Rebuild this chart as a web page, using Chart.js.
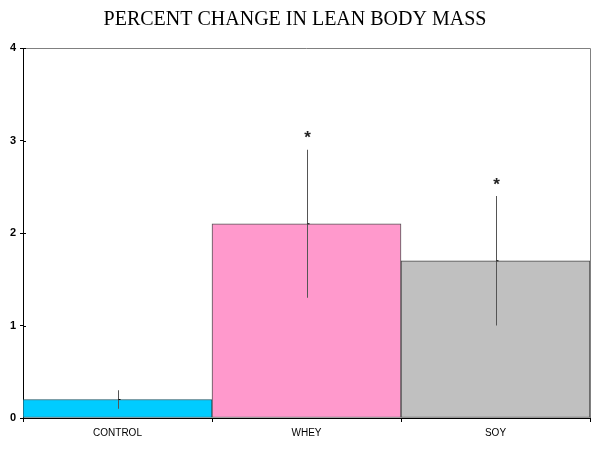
<!DOCTYPE html>
<html>
<head>
<meta charset="utf-8">
<script src="https://cdn.jsdelivr.net/npm/chart.js@4/dist/chart.umd.min.js"></script>
<style>
html,body{margin:0;padding:0;background:#fff;}
#wrap{width:600px;height:450px;}
</style>
</head>
<body>
<div id="wrap"><canvas id="c" width="600" height="450"></canvas></div>
<script>
const categories = ["CONTROL", "WHEY", "SOY"];
const meanValues = [0.2, 2.1, 1.7];
const errorValues = [0.1, 0.8, 0.7];
const significance = ["", "*", "*"];
const yTicks = [0, 1, 2, 3, 4];
const barColors = ["#00CCFF", "#FF99CC", "#C0C0C0"];

const errorPlugin = {
  id: 'errorBars',
  afterDatasetsDraw(chart) {
    const ctx = chart.ctx;
    const x = chart.scales.x, y = chart.scales.y;
    const area = chart.chartArea;
    ctx.save();
    // top and right frame
    ctx.strokeStyle = '#808080';
    ctx.lineWidth = 1;
    ctx.beginPath();
    ctx.moveTo(area.left, area.top + 0.5);
    ctx.lineTo(area.right + 0.5, area.top + 0.5);
    ctx.lineTo(area.right + 0.5, area.bottom);
    ctx.stroke();
    // inner half of y tick marks
    ctx.strokeStyle = '#000';
    ctx.beginPath();
    yTicks.forEach(t => {
      const py = Math.round(y.getPixelForValue(t)) + 0.5;
      ctx.moveTo(area.left, py);
      ctx.lineTo(area.left + 3, py);
    });
    ctx.stroke();
    meanValues.forEach((v, i) => {
      const px = Math.round(x.getPixelForValue(i)) + 0.5;
      const top = y.getPixelForValue(v + errorValues[i]);
      const bot = y.getPixelForValue(v - errorValues[i]);
      const mid = y.getPixelForValue(v);
      ctx.strokeStyle = '#555';
      ctx.lineWidth = 1;
      ctx.beginPath();
      ctx.moveTo(px, top);
      ctx.lineTo(px, bot);
      ctx.stroke();
      ctx.strokeStyle = '#000';
      ctx.beginPath();
      ctx.moveTo(px, mid);
      ctx.lineTo(px + 2, mid);
      ctx.stroke();
      if (significance[i]) {
        ctx.fillStyle = '#222';
        ctx.font = 'bold 17px "Liberation Sans", Arial, sans-serif';
        ctx.textAlign = 'center';
        ctx.textBaseline = 'middle';
        ctx.fillText(significance[i], px, top - 11);
      }
    });
    ctx.restore();
  }
};

new Chart(document.getElementById('c'), {
  type: 'bar',
  data: {
    labels: categories,
    datasets: [{
      data: meanValues,
      backgroundColor: barColors,
      borderColor: ['#1a5566', '#555555', '#444444'],
      borderWidth: 1,
      borderSkipped: false,
      barPercentage: 1,
      categoryPercentage: 1
    }]
  },
  options: {
    responsive: false,
    animation: false,
    devicePixelRatio: 1,
    layout: { padding: { left: 0, right: 10, top: 0, bottom: 0 } },
    plugins: {
      legend: { display: false },
      tooltip: { enabled: false },
      title: {
        display: true,
        text: 'PERCENT CHANGE IN LEAN BODY MASS',
        color: '#000',
        font: { family: '"Liberation Serif", "Times New Roman", serif', size: 20, weight: 'normal' },
        padding: { top: 8, bottom: 16 }
      }
    },
    scales: {
      x: {
        grid: { display: true, drawOnChartArea: false, drawTicks: true, tickLength: 4, offset: true, color: '#000' },
        border: { display: true, color: '#000', width: 1 },
        ticks: { color: '#000', padding: 5, font: { family: '"Liberation Sans", Arial, sans-serif', size: 10 } },
        afterFit(s) { s.height = 32; }
      },
      y: {
        min: 0, max: 4,
        afterBuildTicks(s) { s.ticks = yTicks.map(v => ({ value: v })); },
        grid: { display: true, drawOnChartArea: false, drawTicks: true, tickLength: 3, color: '#000' },
        border: { display: true, color: '#000', width: 1 },
        ticks: { color: '#000', padding: 4, font: { family: '"Liberation Sans", Arial, sans-serif', size: 11, weight: 'bold' } },
        afterFit(s) { s.width = 23; }
      }
    }
  },
  plugins: [errorPlugin]
});
</script>
</body>
</html>
